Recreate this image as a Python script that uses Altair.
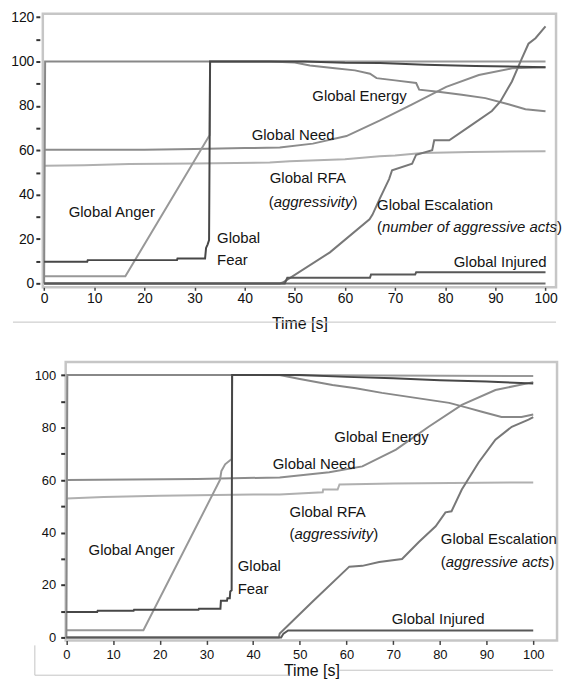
import altair as alt
import pandas as pd

FONT = "Liberation Sans"

# ---------------- upper panel data ----------------
fear_t_1 = [0, 8.6, 8.7, 26.5, 26.6, 32.1, 32.3, 32.6, 32.9, 33.1, 52, 60, 67, 76, 86, 100]
fear_v_1 = [9.8, 9.8, 10.5, 10.5, 11.2, 11.2, 16, 17.5, 19.5, 100, 100, 99.4, 99.3, 98.5, 98, 97.4]
anger_t_1 = [0, 16.2, 33.0, 33.1, 100]
anger_v_1 = [3.2, 3.2, 66.8, 100, 100]
energy_t_1 = [0, 0.2, 45, 50, 53, 58, 62, 65, 66.3, 70, 74.2, 74.8, 79, 83.3, 88, 92.6, 96, 100]
energy_v_1 = [0, 100, 100, 99.5, 98.2, 97, 96, 94.5, 92.5, 91.5, 90.3, 87.3, 86.3, 85, 83.5, 80.7, 78.5, 77.6]
need_t_1 = [0, 20, 30, 40, 47, 53.6, 60.3, 66.9, 73.4, 80.2, 86.7, 93.3, 100]
need_v_1 = [60.2, 60.2, 60.6, 61, 61.2, 63, 66.4, 73.4, 80.7, 88.6, 93.9, 96.9, 97.4]
rfa_t_1 = [0, 8, 17, 30, 45, 49, 60, 66.9, 70, 75.4, 85, 100]
rfa_v_1 = [53, 53.3, 53.8, 54, 54.5, 55.1, 56, 57.3, 57.6, 58.8, 59.2, 59.6]
esc_t_1 = [0, 47, 47.6, 57, 64.9, 65.5, 66.9, 68.8, 69.4, 73.4, 74.2, 77.4, 77.8,
           80.8, 85, 89.3, 91, 93.3, 95.2, 96.6, 98, 100]
esc_v_1 = [0, 0, 0.4, 14, 28.9, 31, 38, 47, 51, 54, 58, 60, 64.5,
           64.5, 71, 77.7, 82, 91, 101, 108, 110.5, 115.8]
inj_t_1 = [0, 48, 48.5, 65, 65.2, 74, 74.2, 100]
inj_v_1 = [0, 0, 2.6, 2.6, 4, 4, 5, 5]
base_t_1 = [0, 100]
base_v_1 = [0, 0]

lab_text_1 = ["Global Energy", "Global Need", "Global RFA", "(aggressivity)", "Global Anger",
              "Global", "Fear", "Global Escalation", "(number of aggressive acts)", "Global Injured"]
lab_x_1 = [53.5, 41.4, 45, 44.8, 4.9, 34.5, 34.5, 66.4, 66.4, 81.7]
lab_y_1 = [84.6, 67, 47.4, 36.8, 32, 20.6, 10.5, 35.5, 25.4, 9.6]

# ---------------- lower panel data ----------------
fear_t_2 = [0, 6.6, 6.7, 14.4, 14.5, 28.3, 28.4, 33, 33.1, 34.4, 34.5, 35.0, 35.1, 35.4, 35.5,
            50, 60, 70, 80, 90, 100]
fear_v_2 = [9.7, 9.7, 10.2, 10.2, 10.6, 10.6, 11, 11, 14, 14, 15, 15, 17.5, 18, 100,
            100, 99.3, 98.8, 98, 97.5, 96.8]
anger_t_2 = [0, 16.5, 32.9, 33.2, 34, 35.4, 35.5, 100]
anger_v_2 = [2.8, 2.8, 60, 63.4, 66, 68, 100, 99.6]
energy_t_2 = [0, 0.2, 45.7, 50, 57, 62, 67.6, 74.8, 82, 86, 89, 93.2, 97.5, 100]
energy_v_2 = [0, 100, 100, 98.5, 96.2, 95, 93.2, 91.3, 89.4, 87.5, 86, 84, 84, 85]
need_t_2 = [0, 28, 45.7, 56.3, 63.4, 70.6, 77.6, 84.7, 91.9, 100]
need_v_2 = [60, 60.4, 61, 63, 65.2, 71.6, 80.3, 88.6, 94.3, 97.3]
rfa_t_2 = [0, 8, 20, 40, 45.7, 54.9, 55, 58.1, 58.5, 70, 100]
rfa_v_2 = [53, 53.5, 54, 54.5, 54.5, 55.3, 56.4, 56.4, 58.3, 58.7, 59.1]
esc_t_2 = [0, 45.5, 45.7, 52.7, 60.6, 63.4, 67, 71.9, 75.5, 79.1, 81.2, 82.5, 84.7,
           88.3, 91.9, 95.4, 99, 100]
esc_v_2 = [0, 0, 1.5, 13.6, 27, 27.3, 28.8, 29.9, 36.4, 42.4, 47.7, 48.1, 56.4,
           66.7, 75.4, 80.3, 83, 84]
inj_t_2 = [0, 46, 46.5, 47.5, 100]
inj_v_2 = [0, 0, 1.5, 2.7, 2.7]

lab_text_2 = ["Global Energy", "Global Need", "Global RFA", "(aggressivity)", "Global Anger",
              "Global", "Fear", "Global Escalation", "(aggressive acts)", "Global Injured"]
lab_x_2 = [57.4, 44.2, 47.8, 47.8, 4.75, 36.7, 36.7, 80.2, 80.2, 69.7]
lab_y_2 = [76.5, 66, 47.7, 39.4, 33.3, 27.3, 18.6, 37.5, 28.8, 7.2]

# ---------------- styling ----------------
series_names = ["RFA", "Need", "Anger", "Energy", "Escalation", "Base", "Injured", "Fear"]
series_colors = ["#b0b0b0", "#8c8c8c", "#989898", "#888888", "#787878", "#6e6e6e", "#585858", "#474747"]

ADV = {"(": 333, ")": 333, "a": 556, "g": 556, "r": 333, "e": 556, "s": 500, "i": 222,
       "v": 500, "t": 278, "y": 500, "n": 556, "u": 556, "m": 833, "b": 556, "o": 556,
       "f": 278, " ": 278, "c": 500}


def tw(s, size):
    return sum(ADV.get(ch, 556) for ch in s) * size / 1000.0


def make_df(series):
    rows = []
    for name, ts, vs in series:
        for i, (t, v) in enumerate(zip(ts, vs)):
            rows.append({"s": name, "t": t, "v": v, "i": i})
    return pd.DataFrame(rows)


def panel(series, lab_x, lab_y, lab_text, xdom, ydom, yvals, w, h, tick_font,
          axis_off, xlab_pad, ylab_pad, x_tick, title_pad, decor):
    df = make_df(series)
    xenc = alt.X("t:Q", scale=alt.Scale(domain=xdom, nice=False, zero=False),
                 axis=alt.Axis(values=list(range(0, 101, 10)), title="Time [s]", grid=False,
                               domain=False, tickColor="#444", tickSize=x_tick, tickWidth=1.5,
                               labelFont=FONT, labelFontSize=tick_font, labelColor="#111",
                               labelPadding=xlab_pad, labelFlush=False, titleFont=FONT,
                               titleFontSize=16, titleFontWeight="normal", titleColor="#111",
                               titlePadding=title_pad))
    yenc = alt.Y("v:Q", scale=alt.Scale(domain=ydom, nice=False, zero=False),
                 axis=alt.Axis(values=yvals, labelExpr="datum.value % 20 == 0 ? datum.label : ''",
                               title=None, grid=False, domain=False, tickColor="#333",
                               tickSize=4, tickWidth=2, offset=axis_off, labelFont=FONT,
                               labelFontSize=tick_font, labelColor="#111", labelPadding=ylab_pad))
    lines = alt.Chart(df).mark_line(strokeWidth=2).encode(
        x=xenc, y=yenc,
        color=alt.Color("s:N", scale=alt.Scale(domain=series_names, range=series_colors), legend=None),
        order="i:Q")
    layers = [lines]
    for x, y, s in zip(lab_x, lab_y, lab_text):
        if s.startswith("(") and s.endswith(")"):
            inner = s[1:-1]
            parts = [("(", "normal", 0), (inner, "italic", tw("(", 15)),
                     (")", "normal", tw("(", 15) + tw(inner, 15))]
        else:
            parts = [(s, "normal", 0)]
        for txt, style, dx in parts:
            d = pd.DataFrame({"t": [x], "v": [y], "label": [txt]})
            layers.append(alt.Chart(d).mark_text(align="left", baseline="middle", dx=dx, font=FONT,
                                                 fontSize=15, fontStyle=style, color="#151515")
                          .encode(x=xenc, y=yenc, text="label:N"))
    dummy = pd.DataFrame({"k": [0]})
    for (x1, x2, y1, y2) in decor:
        if y1 == y2:
            enc = dict(x=alt.value(x1), x2=alt.value(x2), y=alt.value(y1))
        else:
            enc = dict(x=alt.value(x1), y=alt.value(y1), y2=alt.value(y2))
        layers.append(alt.Chart(dummy).mark_rule(color="#c4c4c4", strokeWidth=1).encode(**enc))
    return alt.layer(*layers).properties(
        width=w, height=h, view=alt.ViewBackground(stroke="#c6c6c6", strokeWidth=2.5))


top = panel(
    [("RFA", rfa_t_1, rfa_v_1), ("Need", need_t_1, need_v_1), ("Anger", anger_t_1, anger_v_1),
     ("Energy", energy_t_1, energy_v_1), ("Escalation", esc_t_1, esc_v_1), ("Base", base_t_1, base_v_1),
     ("Injured", inj_t_1, inj_v_1), ("Fear", fear_t_1, fear_v_1)],
    lab_x_1, lab_y_1, lab_text_1, [-0.26, 102.1], [-1.75, 121.5], list(range(0, 121, 10)),
    516, 275, 14, 3, 1, 2, 3, 10,
    [(-30, 516, 310, 310)])

bottom = panel(
    [("RFA", rfa_t_2, rfa_v_2), ("Need", need_t_2, need_v_2), ("Anger", anger_t_2, anger_v_2),
     ("Energy", energy_t_2, energy_v_2), ("Escalation", esc_t_2, esc_v_2),
     ("Injured", inj_t_2, inj_v_2), ("Fear", fear_t_2, fear_v_2)],
    lab_x_2, lab_y_2, lab_text_2, [-0.15, 105.1], [-1.1, 105], list(range(0, 101, 10)),
    494, 280, 13, 1, 4, 5, 4, 1,
    [(-31, 225, 315, 315), (275, 490, 310, 310), (-31, -31, 285, 315)])


def spacer(wd):
    return alt.Chart(pd.DataFrame({"k": [0]})).mark_rect(opacity=0).encode(
        x=alt.value(0), x2=alt.value(wd), y=alt.value(0), y2=alt.value(1)
    ).properties(width=wd, height=1)


chart = alt.vconcat(
    alt.hconcat(spacer(1), top, spacing=0),
    alt.hconcat(spacer(25), bottom, spacing=0),
    spacing=27,
).properties(padding={"left": 0, "top": -1, "right": 0, "bottom": 0}).configure_view(strokeWidth=0)

chart.save("out.html", embed_options={"renderer": "svg", "actions": False})
